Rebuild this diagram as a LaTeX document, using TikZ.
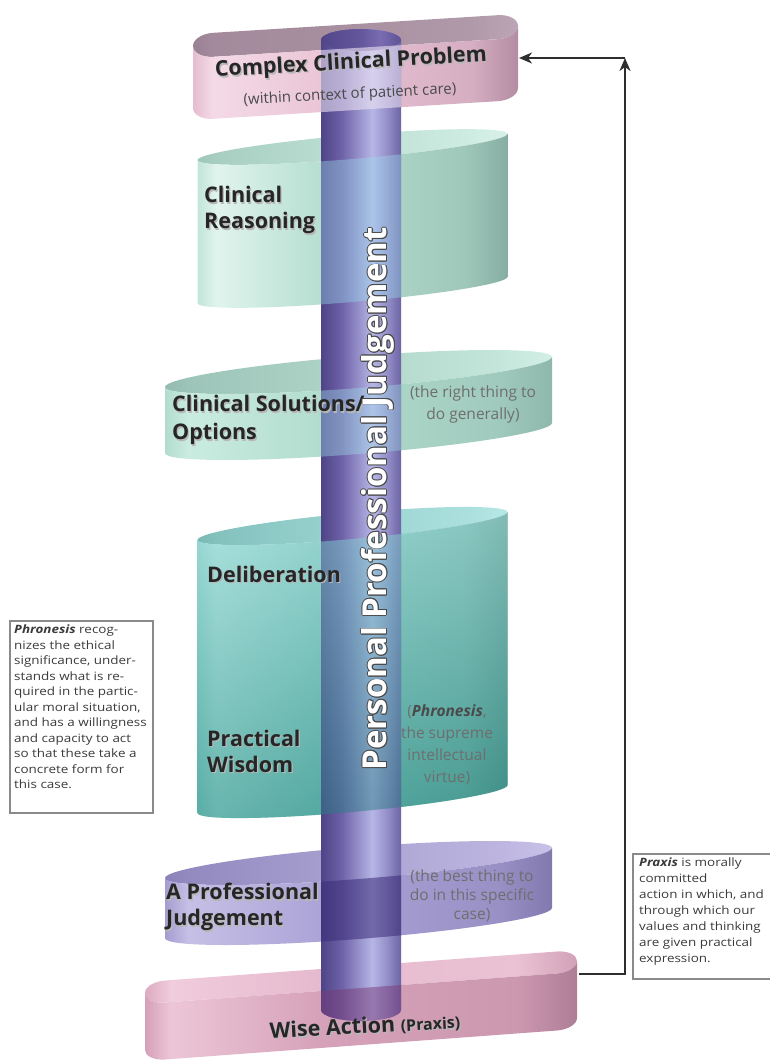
\documentclass[tikz,border=0pt]{standalone}
\usepackage{fontspec}
\setmainfont{Open Sans}
\newfontfamily\boxfont[FakeStretch=1.17]{Open Sans}
\usetikzlibrary{arrows.meta}

% ---------- colours ----------
\definecolor{labc}{HTML}{262626}
\definecolor{parc}{HTML}{6E6E6E}
\definecolor{subc}{HTML}{4A4A4A}
\definecolor{edgec}{HTML}{4A4A4A}
\definecolor{arrc}{HTML}{2E2E2E}
\definecolor{framec}{HTML}{8A8A8A}
\definecolor{boxtc}{HTML}{3A3A3A}
\definecolor{delTop}{HTML}{C8F0EE}
\definecolor{delMid}{HTML}{6CBCB4}
\definecolor{delBot}{HTML}{2E8A80}
\definecolor{ovCCP}{HTML}{ECE2F2}
\definecolor{ovCR}{HTML}{9ADAEC}
\definecolor{ovCS}{HTML}{A0DCE8}
\definecolor{ovDLt}{HTML}{8AD8D8}
\definecolor{ovDLb}{HTML}{2A7A84}
\definecolor{ovPJ}{HTML}{3A2C78}
\definecolor{ovWA}{HTML}{7A3C78}

% horizontal shading: name, then five colours from left to right
\newcommand\hshade[6]{%
  \definecolor{#1A}{HTML}{#2}\definecolor{#1B}{HTML}{#3}%
  \definecolor{#1C}{HTML}{#4}\definecolor{#1D}{HTML}{#5}%
  \definecolor{#1E}{HTML}{#6}%
  \pgfdeclarehorizontalshading{#1}{100bp}{color(0bp)=(#1A); color(25bp)=(#1A);
    color(28bp)=(#1B); color(45bp)=(#1C); color(68bp)=(#1D);
    color(75bp)=(#1E); color(100bp)=(#1E)}}

\hshade{ccpIn}{9A8093}{A38A9C}{A78E9F}{B09AAA}{BCA6B6}
\hshade{ccpFr}{E4BDCF}{F4DAE6}{EAC5D6}{D6AEC2}{B38CA2}
\hshade{crIn}{9EC6BA}{A8CEC2}{B8DCD0}{CDEBE1}{D8F1E9}
\hshade{crFr}{C2E5D9}{E0F4ED}{B6DED1}{9FC7BA}{86AEA2}
\hshade{csIn}{93BBAF}{9CC4B8}{ACD2C5}{C4E6DA}{D2EFE5}
\hshade{csFr}{B2DCCE}{CAECE0}{B2DDCE}{A0CABD}{8DB8AB}
\hshade{dlIn}{79B8B4}{84C2BE}{96D0CD}{AADFDD}{B6E8E6}
\hshade{dlFr}{7ACAC4}{96D8D3}{72C2BB}{5CA9A1}{478F87}
\hshade{pjIn}{8A82B8}{938BC0}{A59DCD}{BDB5E0}{C8C1E8}
\hshade{pjFr}{A59DD0}{C6BFE6}{ACA4D7}{9991C6}{8279AF}
\hshade{waIn}{DCAAC0}{F0CCDC}{E6BACE}{EAC2D3}{D2A2B8}
\hshade{waFr}{D5A0B8}{EDC6D6}{D6A2BA}{CC98B0}{AE7E96}

\definecolor{pilA}{HTML}{4E4486}
\definecolor{pilB}{HTML}{6E62A8}
\definecolor{pilC}{HTML}{B6B6E6}
\definecolor{pilD}{HTML}{9690CA}
\definecolor{pilE}{HTML}{6C64A4}
\pgfdeclarehorizontalshading{pillarsh}{100bp}{color(0bp)=(pilA); color(25bp)=(pilA);
  color(38bp)=(pilB); color(57bp)=(pilC); color(66bp)=(pilD);
  color(75bp)=(pilE); color(100bp)=(pilE)}
\definecolor{capA}{HTML}{52468A}
\definecolor{capB}{HTML}{65579C}
\definecolor{capC}{HTML}{7A6CB0}
\definecolor{capD}{HTML}{5E5296}
\pgfdeclarehorizontalshading{capsh}{100bp}{color(0bp)=(capA); color(25bp)=(capA);
  color(50bp)=(capB); color(62bp)=(capC); color(75bp)=(capD); color(100bp)=(capD)}

% ---------- path pieces of an open ring band ----------
% #1 half straight length, #2 end radius (x), #3 rim radius (y), #4 height
\newcommand\ringin[3]{(-#1-#2,0)
  arc[start angle=180,end angle=90,x radius=#2,y radius=#3] -- (#1,#3)
  arc[start angle=90,end angle=0,x radius=#2,y radius=#3]
  arc[start angle=0,end angle=-90,x radius=#2,y radius=#3] -- (-#1,-#3)
  arc[start angle=-90,end angle=-180,x radius=#2,y radius=#3] -- cycle}
\newcommand\ringfront[4]{(-#1-#2,0)
  arc[start angle=180,end angle=270,x radius=#2,y radius=#3] -- (#1,-#3)
  arc[start angle=270,end angle=360,x radius=#2,y radius=#3] -- (#1+#2,-#4)
  arc[start angle=0,end angle=-90,x radius=#2,y radius=#3] -- (-#1,-#3-#4)
  arc[start angle=-90,end angle=-180,x radius=#2,y radius=#3] -- cycle}
\newcommand\pillarpath{(321,-40) -- (321,-1010)
  arc[start angle=180,end angle=360,x radius=40,y radius=11] -- (401,-40)
  arc[start angle=0,end angle=180,x radius=40,y radius=11] -- cycle}

% ---------- text helpers ----------
\newcommand\halotext[1]{%
  \rlap{\kern0.9pt\textcolor{edgec}{#1}}%
  \rlap{\kern-0.9pt\textcolor{edgec}{#1}}%
  \rlap{\raisebox{0.9pt}{\textcolor{edgec}{#1}}}%
  \rlap{\raisebox{-0.9pt}{\textcolor{edgec}{#1}}}%
  \rlap{\kern0.65pt\raisebox{0.65pt}{\textcolor{edgec}{#1}}}%
  \rlap{\kern-0.65pt\raisebox{0.65pt}{\textcolor{edgec}{#1}}}%
  \rlap{\kern0.65pt\raisebox{-0.65pt}{\textcolor{edgec}{#1}}}%
  \rlap{\kern-0.65pt\raisebox{-0.65pt}{\textcolor{edgec}{#1}}}%
  \textcolor{white}{#1}}
\newcommand\shadowed[1]{\rlap{\kern1.2pt\raisebox{-1.4pt}{\textcolor{black!28}{#1}}}#1}

\begin{document}
\begin{tikzpicture}[x=1pt,y=1pt,
  bandCCP/.style={shift={(355.5,-36)},cm={1,0.062,0,1,(0,0)}},
  bandCR/.style={shift={(352.5,-147)},cm={1,0.085,0,1,(0,0)}},
  bandCS/.style={shift={(358.5,-372)},cm={1,0.078,0,1,(0,0)}},
  bandDL/.style={shift={(352.5,-526)},cm={1,0.09,0,1,(0,0)}},
  bandPJ/.style={shift={(358.5,-863)},cm={1,0.078,0,1,(0,0)}},
  bandWA/.style={shift={(361,-977)},cm={1,0.074,0,1,(0,0)}},
  lab/.style={font=\fontsize{21.5}{26}\selectfont\bfseries, text=labc,
    align=left, inner sep=0pt},
  paren/.style={font=\fontsize{15.5}{22}\selectfont, text=parc,
    align=center, inner sep=0pt},
  boxframe/.style={draw=framec, line width=1.5pt, inner sep=0pt,
    anchor=north west},
  boxtext/.style={font=\boxfont\fontsize{11.5}{15.5}\selectfont, text=boxtc,
    align=left, inner sep=0pt, anchor=north west},
  conn/.style={draw=arrc, line width=2.6pt,
    -{Stealth[length=13pt,width=11pt,inset=4pt]}}
]
\useasboundingbox (0,0) rectangle (769,-1062);

% ---------- ring bands: back wall and front wall ----------
\begin{scope}[bandCCP]
  \shade[shading=ccpIn] \ringin{142.5}{20}{12};
  \shade[shading=ccpFr] \ringfront{142.5}{20}{12}{62};
\end{scope}
\begin{scope}[bandCR]
  \shade[shading=crIn] \ringin{0}{155}{12};
  \shade[shading=crFr] \ringfront{0}{155}{12}{143};
\end{scope}
\begin{scope}[bandCS]
  \shade[shading=csIn] \ringin{0}{193.5}{16};
  \shade[shading=csFr] \ringfront{0}{193.5}{16}{66};
\end{scope}
\begin{scope}[bandDL]
  \shade[shading=dlIn] \ringin{0}{155}{13};
  \shade[shading=dlFr] \ringfront{0}{155}{13}{273};
  \shade[top color=delTop, middle color=delMid, bottom color=delBot,
    fill opacity=0.45] \ringfront{0}{155}{13}{273};
\end{scope}
\begin{scope}[bandPJ]
  \shade[shading=pjIn] \ringin{0}{193.5}{16};
  \shade[shading=pjFr] \ringfront{0}{193.5}{16}{60};
\end{scope}
\begin{scope}[bandWA]
  \shade[shading=waIn] \ringin{196}{20}{11};
  \shade[shading=waFr] \ringfront{196}{20}{11}{57};
\end{scope}

% ---------- central pillar ----------
\shade[shading=pillarsh] \pillarpath;
\shade[shading=capsh] (361,-40) ellipse[x radius=40, y radius=11];

% ---------- pillar seen through the front walls ----------
\begin{scope}
  \clip \pillarpath;
  \begin{scope}[bandCCP]
    \fill[ovCCP, fill opacity=0.6] \ringfront{142.5}{20}{12}{62};
  \end{scope}
  \begin{scope}[bandCR]
    \fill[ovCR, fill opacity=0.4] \ringfront{0}{155}{12}{143};
  \end{scope}
  \begin{scope}[bandCS]
    \fill[ovCS, fill opacity=0.4] \ringfront{0}{193.5}{16}{66};
  \end{scope}
  \begin{scope}[bandDL]
    \shade[top color=ovDLt, bottom color=ovDLb, fill opacity=0.5]
      \ringfront{0}{155}{13}{273};
  \end{scope}
  \begin{scope}[bandPJ]
    \fill[ovPJ, fill opacity=0.55] \ringfront{0}{193.5}{16}{60};
  \end{scope}
  \begin{scope}[bandWA]
    \fill[ovWA, fill opacity=0.5] \ringfront{196}{20}{11}{57};
  \end{scope}
\end{scope}

% ---------- band labels ----------
\node[lab, rotate=3.3] (lblCCP) at (351,-64) {\shadowed{Complex Clinical Problem}};
\node[font=\fontsize{15}{18}\selectfont, text=subc, inner sep=0pt, rotate=3]
  (lblCCPsub) at (350,-95) {(within context of patient care)};
\node[lab, anchor=west] (lblCR) at (204,-211) {\shadowed{Clinical}\\\shadowed{Reasoning}};
\node[lab, anchor=west, font=\fontsize{21.5}{28}\selectfont\bfseries]
  (lblCS) at (172,-421) {\shadowed{Clinical Solutions/}\\\shadowed{Options}};
\node[paren] (parCS) at (473,-404) {(the right thing to\\do generally)};
\node[lab, anchor=west] (lblDL) at (207,-575) {\shadowed{Deliberation}};
\node[lab, anchor=west] (lblPW) at (207,-752) {\shadowed{Practical}\\\shadowed{Wisdom}};
\node[paren] (parDL) at (447,-745)
  {({\color{subc}\bfseries\itshape Phronesis},\\the supreme\\intellectual\\virtue)};
\node[lab, anchor=west] (lblPJ) at (166,-908)
  {\shadowed{A Professional}\\\shadowed{Judgement}};
\node[paren, font=\fontsize{15.5}{19}\selectfont] (parPJ) at (472,-896)
  {(the best thing to\\do in this specific\\case)};
\node[lab, rotate=3] (lblWA) at (365,-1027)
  {\shadowed{Wise Action} {\fontsize{16}{16}\selectfont\shadowed{(Praxis)}}};

% ---------- pillar title ----------
\node[rotate=90, inner sep=0pt, font=\fontsize{33}{33}\selectfont\bfseries]
  (ppj) at (378,-499) {\halotext{Personal Professional Judgement}};

% ---------- feedback loop ----------
\coordinate (waR) at (579,-974);
\coordinate (loopTop) at (625,-58);
\coordinate (ccpR) at (519,-58);
\draw[conn] (waR) -| (loopTop);
\draw[conn] (loopTop) -- (ccpR);

% ---------- side notes ----------
\node[boxframe, minimum width=143pt, minimum height=192pt] (phronFrame) at (9,-620) {};
\node[boxtext] (phronText) at (14,-625)
  {{\bfseries\itshape Phronesis} recog-\\nizes the ethical\\significance, under-\\stands what is re-\\quired in the partic-\\ular moral situation,\\and has a willingness\\and capacity to act\\so that these take a\\concrete form for\\this case.};
\node[boxframe, minimum width=140pt, minimum height=125pt] (praxFrame) at (632,-853) {};
\node[boxtext, font=\boxfont\fontsize{11.5}{16}\selectfont] (praxText) at (639,-858)
  {{\bfseries\itshape Praxis} is morally\\committed\\action in which, and\\through which our\\values and thinking\\are given practical\\expression.};
\end{tikzpicture}
\end{document}
